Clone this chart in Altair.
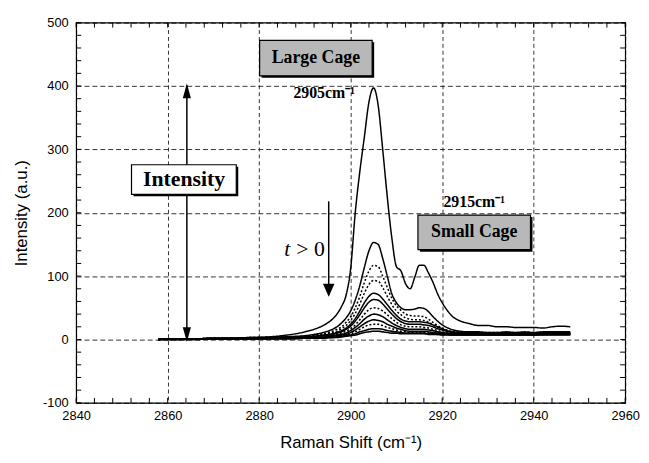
import altair as alt
import pandas as pd

# Raman shift grid (cm-1)
shift = [2858, 2862, 2866, 2870, 2874, 2878, 2882, 2885, 2888, 2890, 2892, 2894, 2896,
         2897, 2898, 2899, 2900, 2901, 2902, 2903, 2904, 2905, 2906, 2907, 2908, 2909,
         2910, 2911, 2912, 2913, 2914, 2915, 2916, 2917, 2918, 2919, 2920, 2921, 2922,
         2924, 2926, 2928, 2930, 2932, 2934, 2936, 2938, 2940, 2942, 2944, 2946, 2948]

c01 = [0,1,1,2,2,3,4,6,9,12,16,22,32,40,52,70,112,200,265,320,375,397,370,300,225,160,
       115,108,88,80,98,117,117,105,90,72,58,47,38,29,25,22,22,20,20,19,19,19,18,20,21,20]
c02 = [0,1,1,2,2,3,3,4,5,6,8,11,16,20,26,34,45,62,85,114,140,153,150,128,100,72,
       58,50,47,47,48,50,49,44,36,29,23,19,16,13,12,12,11,11,12,11,12,11,12,12,12,12]
c03 = [0,1,1,2,2,3,3,4,4,5,7,9,13,16,20,27,36,50,68,90,108,117,115,100,82,65,
       53,46,40,38,37,37,36,32,27,22,18,15,13,12,11,11,11,11,11,11,11,11,11,11,11,11]
c04 = [0,1,1,2,2,2,3,3,4,5,6,8,11,13,17,22,30,41,56,73,87,93,92,82,68,55,
       45,39,34,32,31,31,30,27,23,19,16,14,12,11,11,10,10,10,11,10,11,10,11,11,11,11]
c05 = [0,1,1,2,2,2,3,3,4,4,5,7,9,11,14,18,24,33,45,58,68,73,71,64,55,46,
       38,32,29,28,28,28,27,26,23,20,17,14,12,11,10,10,10,10,10,10,10,10,10,10,10,10]
c06 = [0,1,1,1,2,2,2,3,3,4,5,6,8,10,12,16,21,29,39,50,59,63,62,56,48,40,
       33,28,25,24,24,24,23,22,20,17,15,13,11,10,10,10,10,10,10,10,10,10,10,10,10,10]
c07 = [0,1,1,1,1,2,2,2,3,3,4,5,7,8,10,13,17,23,31,40,47,50,49,45,39,33,
       27,23,21,20,20,20,19,18,16,14,12,11,10,10,9,9,9,9,9,9,9,9,9,10,10,10]
c08 = [0,1,1,1,1,2,2,2,2,3,3,4,6,7,8,10,14,19,25,32,37,40,39,36,31,26,
       22,19,17,16,16,16,16,15,14,12,11,10,9,9,9,9,9,9,9,9,9,9,9,9,9,9]
c09 = [0,0,1,1,1,1,2,2,2,2,3,3,5,6,7,8,11,15,20,25,29,31,30,28,24,21,
       18,16,14,13,13,13,13,12,11,10,9,9,8,8,8,8,8,8,8,8,8,8,8,9,9,9]
c10 = [0,0,1,1,1,1,1,2,2,2,2,3,4,5,6,7,9,12,16,20,23,24,24,22,19,17,
       15,13,12,11,11,11,11,10,10,9,8,8,8,8,8,8,8,8,8,8,8,8,8,8,8,8]
c11 = [0,0,0,1,1,1,1,1,2,2,2,3,3,4,5,6,7,9,12,14,16,17,17,16,14,13,
       12,11,10,10,10,10,10,9,9,8,8,8,7,7,7,7,7,7,7,7,7,7,8,8,8,8]
c12 = [0,0,0,1,1,1,1,1,1,2,2,2,3,3,4,5,6,7,9,11,12,13,13,12,11,10,
       10,9,9,9,9,9,9,8,8,8,7,7,7,7,7,7,7,7,7,7,7,7,7,7,7,7]

series_names = ["s01", "s02", "s03", "s04", "s05", "s06",
                "s07", "s08", "s09", "s10", "s11", "s12"]
series_vals = [c01, c02, c03, c04, c05, c06, c07, c08, c09, c10, c11, c12]
series_dash = [[1, 0], [1, 0], [2, 2], [2, 2], [1, 0], [1, 0],
               [2, 2], [1, 0], [1, 0], [2, 2], [1, 0], [1, 0]]
series_width = [1.5, 1.6, 1.0, 0.9, 2.2, 2.0, 1.0, 1.8, 1.4, 1.0, 2.2, 2.2]

major_x = [2840, 2860, 2880, 2900, 2920, 2940, 2960]
major_y = [-100, 0, 100, 200, 300, 400, 500]
minor_x = list(range(2840, 2961, 4))
minor_y = list(range(-100, 501, 20))

rows = []
for name, vals in zip(series_names, series_vals):
    for xv, yv in zip(shift, vals):
        rows.append({"shift": xv, "intensity": yv, "series": name})
df = pd.DataFrame(rows)
mx_vals = alt.Data(values=[{"mx": v} for v in minor_x])
my_vals = alt.Data(values=[{"my": v} for v in minor_y])

XS = alt.Scale(domain=[2840, 2960], nice=False, zero=False)
YS = alt.Scale(domain=[-100, 500], nice=False, zero=False)

SANS = "Liberation Sans"
SERIF = "Liberation Serif"

AX = alt.Axis(orient="bottom", values=major_x, grid=True, gridColor="black",
              gridDash=[4, 3], gridWidth=0.8, gridOpacity=1, ticks=False, tickSize=0,
              domain=False, labelFont=SANS, labelFontSize=13, labelColor="black",
              labelExpr="'' + datum.value",
              labelPadding=7, labelFlush=False, title="Raman Shift (cm⁻¹)",
              titleFont=SANS, titleFontSize=17, titleFontWeight="normal",
              titleColor="black", titlePadding=12)
AY = alt.Axis(orient="left", values=major_y, grid=True, gridColor="black",
              gridDash=[5, 3], gridWidth=0.8, gridOpacity=1, ticks=False, tickSize=0,
              domain=False, labelFont=SANS, labelFontSize=13, labelColor="black",
              labelExpr="'' + datum.value",
              labelPadding=8, labelFlush=False, title="Intensity (a.u.)",
              titleFont=SANS, titleFontSize=17, titleFontWeight="normal",
              titleColor="black", titlePadding=12)


def xf(field):
    return alt.X(field, type="quantitative", scale=XS, axis=AX)


def yf(field):
    return alt.Y(field, type="quantitative", scale=YS, axis=AY)


def xd(v):
    return alt.XDatum(v, scale=XS, axis=AX)


def yd(v):
    return alt.YDatum(v, scale=YS, axis=AY)


one = alt.Data(values=[{}])

lines = alt.Chart(df).mark_line(color="black", interpolate="monotone").encode(
    x=xf("shift"),
    y=yf("intensity"),
    detail="series:N",
    strokeDash=alt.StrokeDash("series:N", scale=alt.Scale(domain=series_names, range=series_dash), legend=None),
    strokeWidth=alt.StrokeWidth("series:N", scale=alt.Scale(domain=series_names, range=series_width), legend=None),
)

# inward minor ticks on the four frame edges (about 5 px long)
tick_bottom = alt.Chart(mx_vals).mark_rule(color="black", strokeWidth=1).encode(
    x=xf("mx"), y=yd(-100), y2=alt.datum(-92.2))
tick_top = alt.Chart(mx_vals).mark_rule(color="black", strokeWidth=1).encode(
    x=xf("mx"), y=yd(500), y2=alt.datum(492.2))
tick_left = alt.Chart(my_vals).mark_rule(color="black", strokeWidth=1).encode(
    y=yf("my"), x=xd(2840), x2=alt.datum(2841.1))
tick_right = alt.Chart(my_vals).mark_rule(color="black", strokeWidth=1).encode(
    y=yf("my"), x=xd(2960), x2=alt.datum(2958.9))

# double arrow "Intensity"
shaft1 = alt.Chart(one).mark_rule(color="black", strokeWidth=1.5).encode(
    x=xd(2864.2), y=yd(-1), y2=alt.datum(401),
)
up_head = "M0,-1L0.55,1L-0.55,1Z"
down_head = "M0,1L0.55,-1L-0.55,-1Z"
head_top = alt.Chart(one).mark_point(shape=up_head, size=225, filled=True, color="black",
                                     opacity=1, yOffset=7.5).encode(x=xd(2864.2), y=yd(404))
head_bot = alt.Chart(one).mark_point(shape=down_head, size=225, filled=True, color="black",
                                     opacity=1, yOffset=-7.5).encode(x=xd(2864.2), y=yd(-4))

# t > 0 arrow
shaft2 = alt.Chart(one).mark_rule(color="black", strokeWidth=1.5).encode(
    x=xd(2895.2), y=yd(70), y2=alt.datum(218),
)
head_t = alt.Chart(one).mark_point(shape="M0,1L0.9,-1L-0.9,-1Z", size=169, filled=True,
                                   color="black", opacity=1, yOffset=-6.5).encode(
    x=xd(2895.2), y=yd(67.5))


def box(x1, x2, y1, y2, fill):
    shadow = alt.Chart(one).mark_rect(fill="black", xOffset=2, x2Offset=2, yOffset=2,
                                      y2Offset=2).encode(
        x=xd(x1), x2=alt.datum(x2), y=yd(y1), y2=alt.datum(y2))
    main = alt.Chart(one).mark_rect(fill=fill, stroke="black", strokeWidth=1.2).encode(
        x=xd(x1), x2=alt.datum(x2), y=yd(y1), y2=alt.datum(y2))
    return [shadow, main]


def label(x, y, text, size, weight="normal", style="normal", align="center"):
    return alt.Chart(one).mark_text(text=text, font=SERIF, fontSize=size, fontWeight=weight,
                                    fontStyle=style, align=align, baseline="middle",
                                    color="black").encode(x=xd(x), y=yd(y))


layers = [lines, shaft1, head_top, head_bot, shaft2, head_t]
layers += box(2880.1, 2904.7, 416, 472, "#b8b8b8")
layers += box(2914.7, 2939.3, 141.7, 196.3, "#b8b8b8")
layers += box(2852.1, 2875.0, 229, 275.7, "white")
layers += [
    label(2892.4, 444, "Large Cage", 18, weight="bold"),
    label(2927.0, 169, "Small Cage", 18, weight="bold"),
    label(2863.6, 252.4, "Intensity", 22, weight="bold"),
    label(2894.2, 389, "2905cm⁻¹", 16, weight="bold"),
    label(2927.0, 216.5, "2915cm⁻¹", 16, weight="bold"),
    label(2885.5, 143, "t", 22, style="italic", align="left"),
    label(2888.1, 143, "> 0", 22, align="left"),
]
layers += [tick_bottom, tick_top, tick_left, tick_right]

chart = alt.layer(*layers).properties(
    width=556, height=385,
    autosize=alt.AutoSizeParams(type="none"),
    padding={"left": 69, "top": 12, "right": 16, "bottom": 50},
    background="white",
).configure_view(stroke="black", strokeWidth=1.2)

chart.save("out.html", embed_options={"renderer": "svg", "actions": False})
